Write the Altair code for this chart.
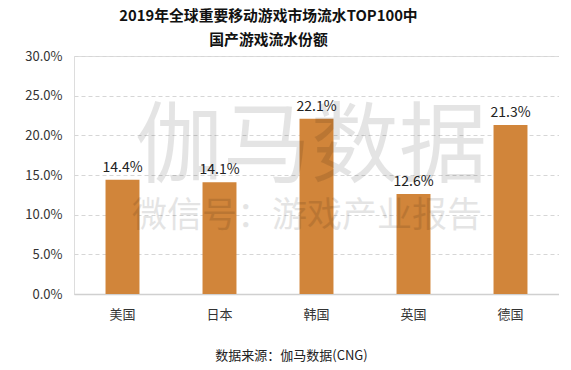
import altair as alt
import pandas as pd

countries = ["美国", "日本", "韩国", "英国", "德国"]
shares = [0.144, 0.141, 0.221, 0.126, 0.213]
y_ticks = [0.0, 0.05, 0.10, 0.15, 0.20, 0.25, 0.30]

df = pd.DataFrame({"country": countries, "share": shares})
FONT = "Noto Sans CJK SC"

x = alt.X("country:N", sort=countries,
          scale=alt.Scale(paddingInner=0.65, paddingOuter=0.325),
          axis=alt.Axis(title="数据来源：伽马数据(CNG)", labelAngle=0, labelFontSize=13,
                        labelColor="#333333", labelPadding=14, ticks=False,
                        domainColor="#d0d0d0", domainWidth=1.5,
                        titleFontSize=13, titleFontWeight="normal", titleColor="#222222",
                        titleX=217, titleY=61, titleAlign="center", titleBaseline="middle"))
y = alt.Y("share:Q", scale=alt.Scale(domain=[0, 0.3], nice=False),
          axis=alt.Axis(values=y_ticks, format=".1%", title=None, labelFontSize=13,
                        labelColor="#333333", labelPadding=12, ticks=False, domain=False,
                        gridDash=[4, 3], gridColor="#d6d6d6"))

base = alt.Chart(df)
bars = base.mark_bar(color="#D1853A").encode(x=x, y=y)
labels = base.mark_text(dy=-12, fontSize=14, color="#222222", font=FONT).encode(
    x=x, y=y, text=alt.Text("share:Q", format=".1%"))

wm1 = alt.Chart(pd.DataFrame({"t": ["伽马数据"]})).mark_text(
    fontSize=88, color="#000000", font=FONT, opacity=0.1, baseline="middle").encode(
    x=alt.value(237), y=alt.value(93), text="t:N")
wm2 = alt.Chart(pd.DataFrame({"t": ["微信号：游戏产业报告"]})).mark_text(
    fontSize=35, color="#000000", font=FONT, opacity=0.1, baseline="middle").encode(
    x=alt.value(233), y=alt.value(160), text="t:N")

chart = alt.layer(bars, labels, wm1, wm2).properties(
    width=485, height=238,
    autosize=alt.AutoSizeParams(type="none"),
    padding={"left": 66, "top": 48, "right": 0, "bottom": 74},
    title=alt.TitleParams(["2019年全球重要移动游戏市场流水TOP100中", "国产游戏流水份额"],
                          anchor="middle", fontSize=14.8, fontWeight="bold", font=FONT,
                          color="#111111", dx=-48, offset=2, lineHeight=24),
).configure_view(strokeWidth=0).configure(font=FONT)

chart.save("out.html", embed_options={"renderer": "svg", "actions": False})
